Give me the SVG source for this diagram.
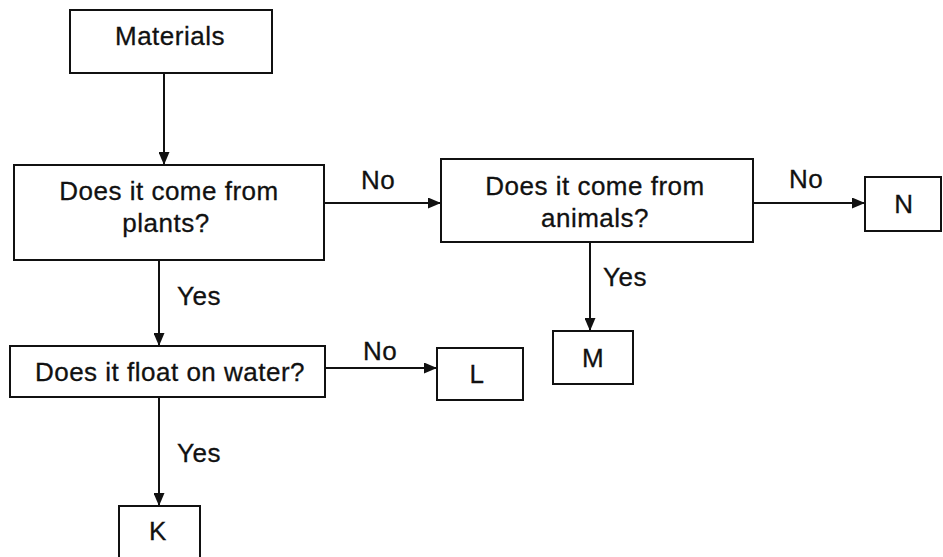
<svg xmlns="http://www.w3.org/2000/svg" width="943" height="557" viewBox="0 0 943 557">
<style>
.box{fill:#fff;stroke:#111;stroke-width:2}
.t{font-family:"Liberation Sans",Arial,sans-serif;font-size:26px;letter-spacing:0.5px;fill:#111;stroke:#111;stroke-width:0.3;text-anchor:middle}
.lbl{font-family:"Liberation Sans",Arial,sans-serif;font-size:26px;letter-spacing:0.5px;fill:#111;stroke:#111;stroke-width:0.3}
.c{fill:none;stroke:#111;stroke-width:2}
</style>
<defs>
<marker id="ah" markerUnits="userSpaceOnUse" markerWidth="13" markerHeight="11" refX="13" refY="5.5" orient="auto">
<path d="M0,0 L13,5.5 L0,11 z" fill="#111"/>
</marker>
</defs>
<rect width="943" height="557" fill="#fff"/>
<g id="connectors">
<line class="c" x1="164" y1="73" x2="164" y2="165" marker-end="url(#ah)"/>
<line class="c" x1="324" y1="203" x2="441" y2="203" marker-end="url(#ah)"/>
<line class="c" x1="753" y1="203" x2="865" y2="203" marker-end="url(#ah)"/>
<line class="c" x1="590" y1="242" x2="590" y2="331" marker-end="url(#ah)"/>
<line class="c" x1="159" y1="260" x2="159" y2="346" marker-end="url(#ah)"/>
<line class="c" x1="325" y1="368" x2="437" y2="368" marker-end="url(#ah)"/>
<line class="c" x1="159" y1="397" x2="159" y2="506" marker-end="url(#ah)"/>
<text class="lbl" x="361" y="189">No</text>
<text class="lbl" x="789" y="188">No</text>
<text class="lbl" x="363" y="360">No</text>
<text class="lbl" x="603" y="286">Yes</text>
<text class="lbl" x="177" y="305">Yes</text>
<text class="lbl" x="177" y="462">Yes</text>
</g>
<g id="materials">
<rect class="box" x="70" y="10" width="202" height="63"/>
<text class="t" x="170" y="45">Materials</text>
</g>
<g id="plants">
<rect class="box" x="14" y="165" width="310" height="95"/>
<text class="t" x="169" y="200">Does it come from</text>
<text class="t" x="166" y="232">plants?</text>
</g>
<g id="animals">
<rect class="box" x="441" y="159" width="312" height="83"/>
<text class="t" x="595" y="195">Does it come from</text>
<text class="t" x="595" y="227">animals?</text>
</g>
<g id="N">
<rect class="box" x="865" y="177" width="76" height="54"/>
<text class="t" x="904" y="213">N</text>
</g>
<g id="M">
<rect class="box" x="553" y="331" width="80" height="53"/>
<text class="t" x="593" y="367">M</text>
</g>
<g id="float">
<rect class="box" x="10" y="346" width="315" height="51"/>
<text class="t" x="170" y="381">Does it float on water?</text>
</g>
<g id="L">
<rect class="box" x="437" y="348" width="86" height="52"/>
<text class="t" x="477" y="383">L</text>
</g>
<g id="K">
<rect class="box" x="119" y="506" width="81" height="60"/>
<text class="t" x="158" y="540">K</text>
</g>
</svg>
